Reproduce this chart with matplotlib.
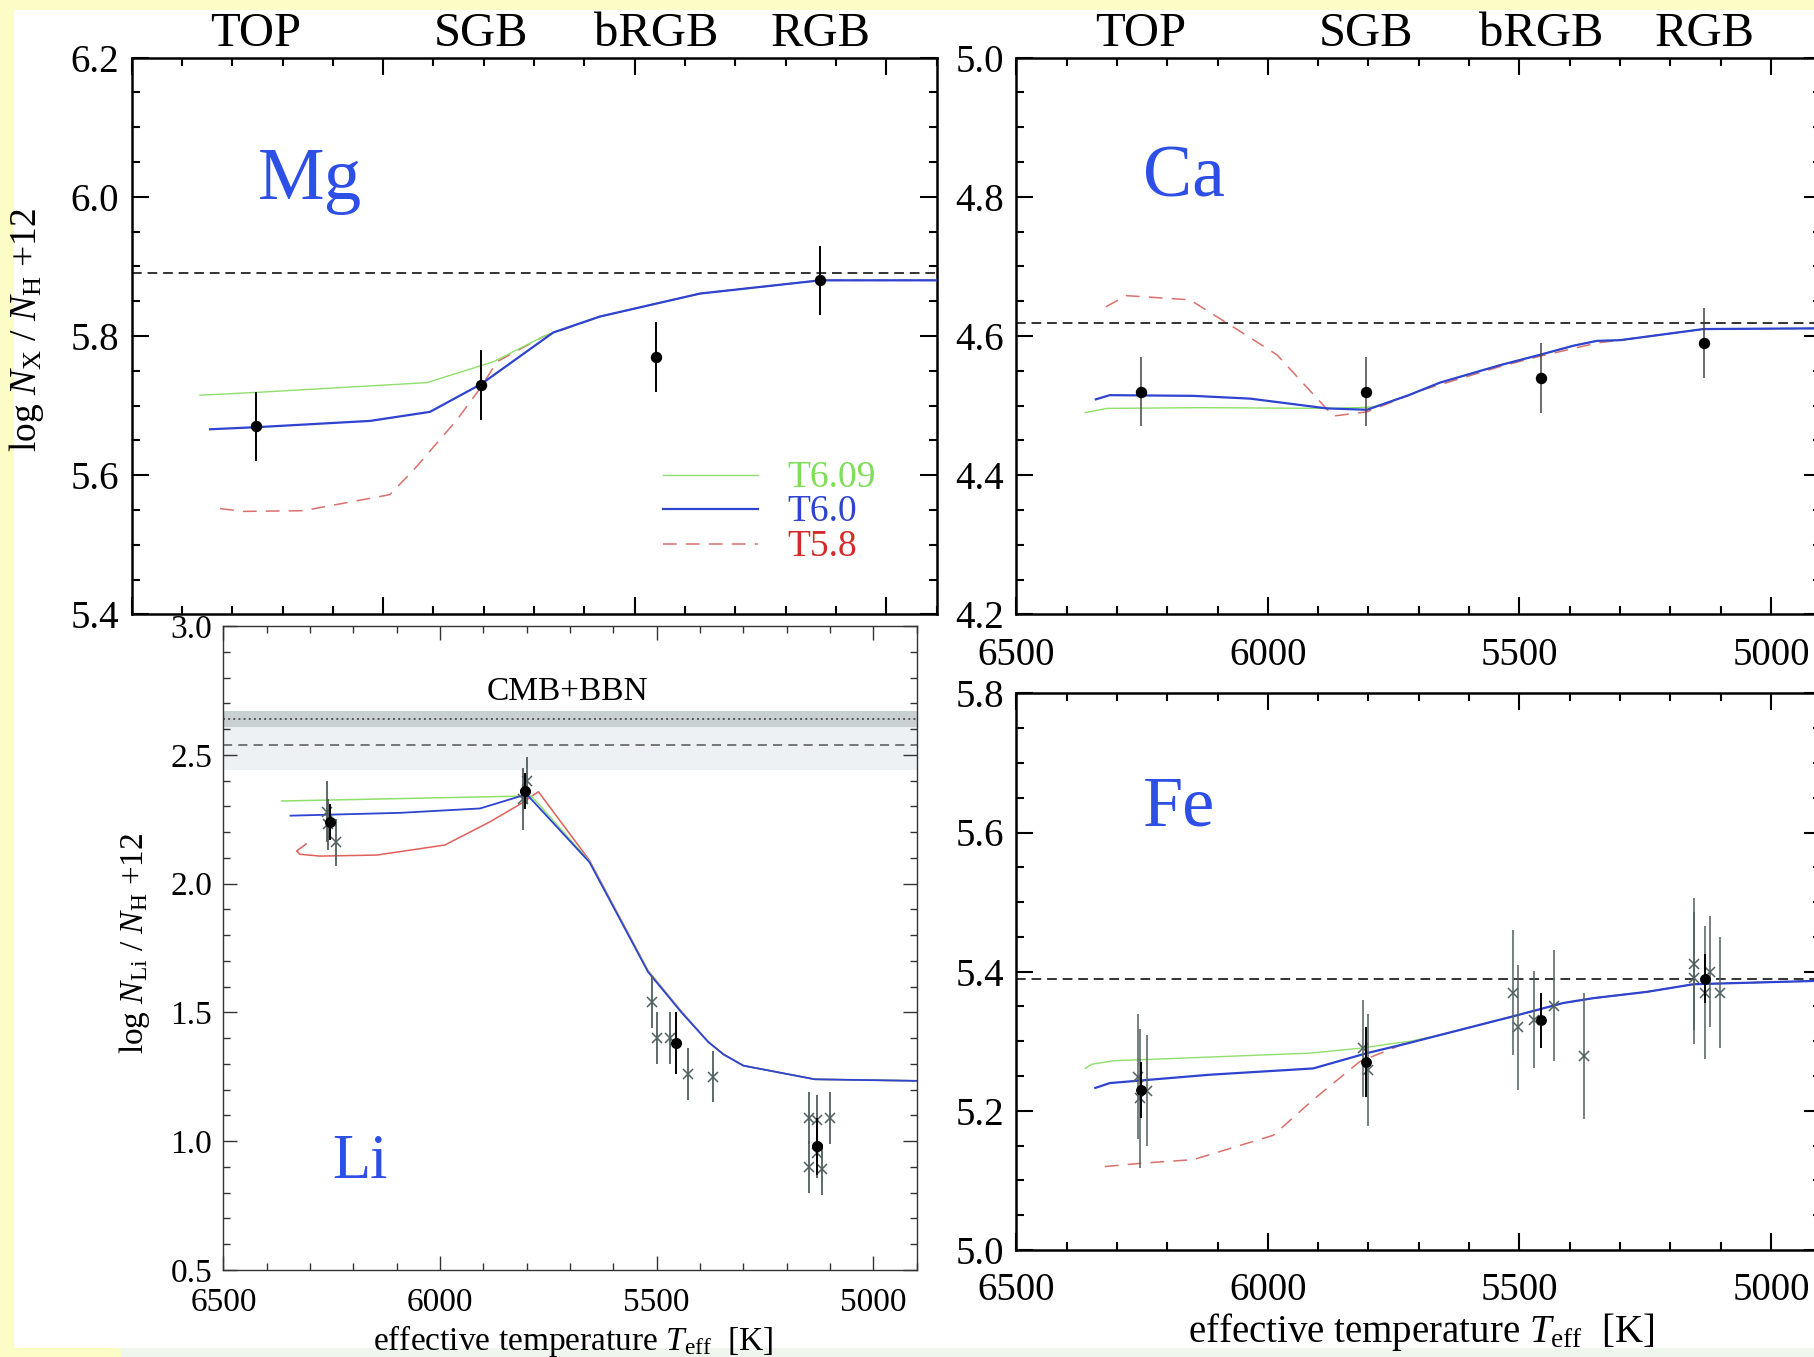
import matplotlib
matplotlib.use('Agg')
import matplotlib.pyplot as plt
import matplotlib.ticker as mticker
from matplotlib.patches import Rectangle
from matplotlib.transforms import blended_transform_factory

plt.rcParams['font.family'] = ['Liberation Serif', 'DejaVu Serif']
plt.rcParams['mathtext.fontset'] = 'custom'
plt.rcParams['mathtext.rm'] = 'Liberation Serif'
plt.rcParams['mathtext.it'] = 'Liberation Serif:italic'
plt.rcParams['mathtext.bf'] = 'Liberation Serif:bold'

# ---------------- data ----------------
phase_names = ['TOP', 'SGB', 'bRGB', 'RGB']

# Mg
mg_obs_teff = [6253, 5805, 5457, 5131]
mg_obs = [5.67, 5.73, 5.77, 5.88]
mg_obs_err = [0.05, 0.05, 0.05, 0.05]
mg_ref = 5.89
mg_t609_teff = [6364, 6251, 5913, 5781, 5688, 5662, 5569, 5370, 5131, 4900]
mg_t609 = [5.715, 5.719, 5.733, 5.763, 5.797, 5.805, 5.828, 5.861, 5.880, 5.880]
mg_t60_teff = [6344, 6251, 6026, 5907, 5805, 5662, 5569, 5370, 5131, 4900]
mg_t60 = [5.666, 5.669, 5.678, 5.691, 5.731, 5.805, 5.828, 5.861, 5.880, 5.880]
mg_t58_teff = [6324, 6278, 6159, 5987, 5940, 5854, 5805, 5774, 5682, 5569, 5370, 5131, 4900]
mg_t58 = [5.552, 5.548, 5.549, 5.572, 5.607, 5.679, 5.727, 5.763, 5.799, 5.828, 5.861, 5.880, 5.880]

# Ca
ca_obs_teff = [6253, 5805, 5457, 5133]
ca_obs = [4.52, 4.52, 4.54, 4.59]
ca_obs_err = [0.05, 0.05, 0.05, 0.05]
ca_ref = 4.618
ca_t609_teff = [6363, 6320, 6135, 5870, 5790, 5720, 5658, 5539, 5459, 5393, 5346, 5300, 5134, 4900]
ca_t609 = [4.490, 4.496, 4.497, 4.496, 4.498, 4.515, 4.533, 4.558, 4.573, 4.586, 4.593, 4.594, 4.610, 4.611]
ca_t60_teff = [6342, 6314, 6148, 6035, 5883, 5803, 5720, 5658, 5539, 5459, 5393, 5346, 5300, 5134, 4900]
ca_t60 = [4.509, 4.515, 4.514, 4.510, 4.496, 4.494, 4.515, 4.533, 4.558, 4.573, 4.586, 4.593, 4.594, 4.610, 4.611]
ca_t58_teff = [6322, 6281, 6155, 6069, 5982, 5870, 5803, 5695, 5658, 5539, 5459, 5393, 5346, 5300, 5134, 4900]
ca_t58 = [4.642, 4.658, 4.652, 4.613, 4.573, 4.485, 4.491, 4.522, 4.530, 4.556, 4.571, 4.582, 4.590, 4.594, 4.610, 4.611]

# Li
li_obs_teff = [6254, 5804, 5455, 5129]
li_obs = [2.24, 2.36, 1.38, 0.98]
li_obs_err = [0.07, 0.07, 0.12, 0.11]
li_star_teff = [6262, 6258, 6240, 5800, 5809, 5510, 5499, 5469, 5428, 5369,
                5149, 5129, 5100, 5149, 5119, 5129]
li_star = [2.28, 2.23, 2.16, 2.40, 2.33, 1.54, 1.40, 1.40, 1.26, 1.25,
           1.09, 1.08, 1.09, 0.90, 0.89, 0.955]
li_star_err = [0.12, 0.10, 0.09, 0.09, 0.12, 0.10, 0.10, 0.10, 0.10, 0.10,
               0.10, 0.10, 0.10, 0.10, 0.10, 0.10]
li_cmb = 2.64
li_cmb_band = (2.61, 2.67)
li_init = 2.54
li_init_band = (2.44, 2.64)
li_t609_teff = [6365, 5816, 5789, 5655, 5520, 5442, 5381, 5346, 5300, 5135, 4900]
li_t609 = [2.321, 2.340, 2.340, 2.086, 1.660, 1.500, 1.385, 1.337, 1.293, 1.240, 1.234]
li_t60_teff = [6345, 6092, 5908, 5800, 5655, 5520, 5442, 5381, 5346, 5300, 5135, 4900]
li_t60 = [2.264, 2.275, 2.292, 2.347, 2.083, 1.657, 1.498, 1.385, 1.337, 1.293, 1.240, 1.234]
li_t58_teff = [6309, 6331, 6323, 6277, 6146, 5989, 5885, 5812, 5773, 5655, 5520, 5442,
               5381, 5346, 5300, 5135, 4900]
li_t58 = [2.154, 2.127, 2.114, 2.107, 2.111, 2.150, 2.240, 2.312, 2.357, 2.090, 1.662, 1.502,
          1.385, 1.337, 1.293, 1.240, 1.234]

# Fe
fe_obs_teff = [6253, 5805, 5457, 5132]
fe_obs = [5.23, 5.27, 5.33, 5.39]
fe_obs_err = [0.04, 0.05, 0.04, 0.035]
fe_ref = 5.39
fe_star_teff = [6259, 6255, 6240, 5810, 5800, 5512, 5502, 5471, 5431, 5371,
                5153, 5153, 5132, 5122, 5102]
fe_star = [5.249, 5.218, 5.229, 5.290, 5.259, 5.370, 5.320, 5.331, 5.351, 5.279,
           5.411, 5.391, 5.370, 5.400, 5.370]
fe_star_err = [0.09, 0.10, 0.08, 0.07, 0.08, 0.09, 0.09, 0.07, 0.08, 0.09,
               0.095, 0.095, 0.095, 0.08, 0.08]
fe_t609_teff = [6363, 6350, 6307, 5916, 5817, 5750, 5717, 5658, 5512, 5413, 5353, 5247, 5154, 4900]
fe_t609 = [5.261, 5.267, 5.272, 5.283, 5.290, 5.297, 5.300, 5.309, 5.336, 5.355, 5.362, 5.371, 5.382, 5.387]
fe_t60_teff = [6343, 6314, 6115, 5910, 5803, 5717, 5658, 5512, 5413, 5353, 5247, 5154, 4900]
fe_t60 = [5.233, 5.240, 5.252, 5.261, 5.283, 5.298, 5.309, 5.336, 5.355, 5.362, 5.371, 5.382, 5.387]
fe_t58_teff = [6324, 6248, 6148, 5989, 5910, 5817, 5724, 5658, 5512, 5413, 5353, 5247, 5154, 4900]
fe_t58 = [5.120, 5.125, 5.130, 5.165, 5.216, 5.271, 5.298, 5.309, 5.336, 5.355, 5.362, 5.371, 5.382, 5.387]

# ---------------- styling ----------------
W, H = 1815, 1357
GREEN = '#8ee06a'
BLUE = '#2e43d0'
RED = '#d9706a'
LABEL_BLUE = '#2d4fe6'
STAR_GRAY = '#4f5f5f'


def px_axes(fig, left, top, right, bottom):
    return fig.add_axes([left / W, 1 - bottom / H, (right - left) / W, (bottom - top) / H])


def style_big(ax, ylo, yhi, show_xlabels):
    ax.set_xlim(6500, 4900)
    ax.set_ylim(ylo, yhi)
    ax.xaxis.set_major_locator(mticker.MultipleLocator(500))
    ax.xaxis.set_minor_locator(mticker.MultipleLocator(100))
    ax.yaxis.set_major_locator(mticker.MultipleLocator(0.2))
    ax.yaxis.set_minor_locator(mticker.MultipleLocator(0.05))
    ax.yaxis.set_major_formatter(mticker.FormatStrFormatter('%.1f'))
    ax.tick_params(which='both', direction='in', top=True, right=True, width=1.5, color='k')
    ax.tick_params(which='major', length=12)
    ax.tick_params(which='minor', length=6)
    ax.tick_params(axis='y', labelsize=28, pad=9)
    ax.tick_params(axis='x', labelsize=28, pad=16, labelbottom=show_xlabels)
    for s in ax.spines.values():
        s.set_linewidth(1.8)


def draw_models(ax, t609, t60, t58, lw=1.0):
    ax.plot(t58[0], t58[1], color=RED, lw=1.1 * lw, ls=(0, (9, 6)), zorder=2)
    ax.plot(t609[0], t609[1], color=GREEN, lw=1.0 * lw, zorder=3)
    ax.plot(t60[0], t60[1], color=BLUE, lw=1.6 * lw, zorder=4)


def phase_labels(ax, teff):
    trans = blended_transform_factory(ax.transData, ax.transAxes)
    for name, t in zip(phase_names, teff):
        ax.text(t, 1.0203, name, transform=trans, ha='center', va='baseline',
                fontsize=35, clip_on=False)


fig = plt.figure(figsize=(W / 100, H / 100), dpi=100)
fig.patch.set_facecolor('#fcfcc6')
fig.add_artist(Rectangle((14 / W, 1 - 1348 / H), 1 - 14 / W, (1348 - 10) / H,
                         transform=fig.transFigure, facecolor='white', edgecolor='none', zorder=0))
fig.add_artist(Rectangle((121 / W, 0), 1 - 121 / W, 9 / H,
                         transform=fig.transFigure, facecolor='#eef6ee', edgecolor='none', zorder=0))

# ---- Mg ----
ax_mg = px_axes(fig, 131.6, 57.6, 936.6, 614.4)
ax_mg.patch.set_alpha(0)
style_big(ax_mg, 5.4, 6.2, show_xlabels=False)
ax_mg.axhline(mg_ref, color='#333333', lw=1.4, ls=(0, (5, 3)), zorder=1)
draw_models(ax_mg, (mg_t609_teff, mg_t609), (mg_t60_teff, mg_t60), (mg_t58_teff, mg_t58))
ax_mg.errorbar(mg_obs_teff, mg_obs, yerr=mg_obs_err, fmt='o', color='k', ms=7.2,
               elinewidth=1.4, capsize=0, zorder=6)
ax_mg.text(0.2216, 0.746, 'Mg', transform=ax_mg.transAxes, ha='center', va='baseline',
           fontsize=54, color=LABEL_BLUE)
ax_mg.set_ylabel('log $N_{\\rm X}$ / $N_{\\rm H}$ +12', fontsize=27)
ax_mg.yaxis.set_label_coords(-0.106, 0.511)
phase_labels(ax_mg, mg_obs_teff)
# legend drawn by hand, as in the original
leg_entries = [('T6.09', GREEN, '-', 1.0, 0.251, '#7ede58'),
               ('T6.0', BLUE, '-', 1.6, 0.189, BLUE),
               ('T5.8', RED, (0, (9, 6)), 1.1, 0.126, '#d62a2a')]
for label, col, ls, lw, yy, tcol in leg_entries:
    ax_mg.plot([0.660, 0.778], [yy, yy], color=col, ls=ls, lw=lw, transform=ax_mg.transAxes)
    ax_mg.text(0.814, yy - 0.022, label, transform=ax_mg.transAxes, ha='left', va='baseline',
               fontsize=27, color=tcol)

# ---- Ca ----
ax_ca = px_axes(fig, 1016.3, 57.6, 1821.3, 614.4)
ax_ca.patch.set_alpha(0)
style_big(ax_ca, 4.2, 5.0, show_xlabels=True)
ax_ca.axhline(ca_ref, color='#333333', lw=1.4, ls=(0, (5, 3)), zorder=1)
draw_models(ax_ca, (ca_t609_teff, ca_t609), (ca_t60_teff, ca_t60), (ca_t58_teff, ca_t58))
ax_ca.errorbar(ca_obs_teff, ca_obs, yerr=ca_obs_err, fmt='o', color='k', ecolor='#444444',
               ms=7.2, elinewidth=1.1, capsize=0, zorder=6)
ax_ca.text(0.208, 0.750, 'Ca', transform=ax_ca.transAxes, ha='center', va='baseline',
           fontsize=53, color=LABEL_BLUE)
phase_labels(ax_ca, ca_obs_teff)

# ---- Fe ----
ax_fe = px_axes(fig, 1016.3, 693.3, 1821.3, 1250.1)
ax_fe.patch.set_alpha(0)
style_big(ax_fe, 5.0, 5.8, show_xlabels=True)
ax_fe.axhline(fe_ref, color='#333333', lw=1.4, ls=(0, (5, 3)), zorder=1)
draw_models(ax_fe, (fe_t609_teff, fe_t609), (fe_t60_teff, fe_t60), (fe_t58_teff, fe_t58))
ax_fe.errorbar(fe_star_teff, fe_star, yerr=fe_star_err, fmt='x', color=STAR_GRAY, ms=7,
               mew=1.1, elinewidth=1.1, capsize=0, zorder=5)
ax_fe.errorbar(fe_obs_teff, fe_obs, yerr=fe_obs_err, fmt='o', color='k', ms=6.8,
               elinewidth=1.4, capsize=0, zorder=6)
ax_fe.text(0.2028, 0.763, 'Fe', transform=ax_fe.transAxes, ha='center', va='baseline',
           fontsize=52, color=LABEL_BLUE)
ax_fe.set_xlabel('effective temperature $T_{\\rm eff}$  [K]', fontsize=28)
ax_fe.xaxis.set_label_coords(0.503, -0.109)

# ---- Li ----
ax_li = px_axes(fig, 223.4, 626.2, 916.7, 1269.8)
ax_li.set_xlim(6500, 4900)
ax_li.set_ylim(0.5, 3.0)
ax_li.xaxis.set_major_locator(mticker.MultipleLocator(500))
ax_li.xaxis.set_minor_locator(mticker.MultipleLocator(100))
ax_li.yaxis.set_major_locator(mticker.MultipleLocator(0.5))
ax_li.yaxis.set_minor_locator(mticker.MultipleLocator(0.1))
ax_li.yaxis.set_major_formatter(mticker.FormatStrFormatter('%.1f'))
ax_li.tick_params(which='both', direction='in', top=True, right=True, width=1.0, color='#333333')
ax_li.tick_params(which='major', length=10)
ax_li.tick_params(which='minor', length=5)
ax_li.tick_params(axis='y', labelsize=24, pad=8)
ax_li.tick_params(axis='x', labelsize=24, pad=13)
for s in ax_li.spines.values():
    s.set_linewidth(1.0)
    s.set_color('#333333')
ax_li.axhspan(*li_init_band, color='#eef1f3', lw=0, zorder=0)
ax_li.axhspan(*li_cmb_band, color='#c8d0d2', lw=0, zorder=0.5)
ax_li.axhline(li_cmb, color='#555555', lw=1.4, ls=':', zorder=1)
ax_li.axhline(li_init, color='#555555', lw=1.1, ls=(0, (6, 4)), zorder=1)
ax_li.text(0.4956, 2.745, 'CMB+BBN', transform=blended_transform_factory(ax_li.transAxes, ax_li.transData),
           ha='center', va='center', fontsize=24)
ax_li.plot(li_t58_teff, li_t58, color='#e0605a', lw=1.1, zorder=2)
ax_li.plot(li_t609_teff, li_t609, color=GREEN, lw=1.1, zorder=3)
ax_li.plot(li_t60_teff, li_t60, color=BLUE, lw=1.3, zorder=4)
ax_li.errorbar(li_star_teff, li_star, yerr=li_star_err, fmt='x', color=STAR_GRAY, ms=7,
               mew=1.1, elinewidth=1.3, capsize=0, zorder=5)
ax_li.errorbar(li_obs_teff, li_obs, yerr=li_obs_err, fmt='o', color='k', ms=7,
               elinewidth=1.4, capsize=0, zorder=6)
ax_li.text(0.197, 0.142, 'Li', transform=ax_li.transAxes, ha='center', va='baseline',
           fontsize=45, color=LABEL_BLUE)
ax_li.set_ylabel('log $N_{\\rm Li}$ / $N_{\\rm H}$ +12', fontsize=24)
ax_li.yaxis.set_label_coords(-0.103, 0.508)
ax_li.set_xlabel('effective temperature $T_{\\rm eff}$  [K]', fontsize=24)
ax_li.xaxis.set_label_coords(0.504, -0.0827)

fig.savefig('out.png', dpi=100, facecolor=fig.get_facecolor())
